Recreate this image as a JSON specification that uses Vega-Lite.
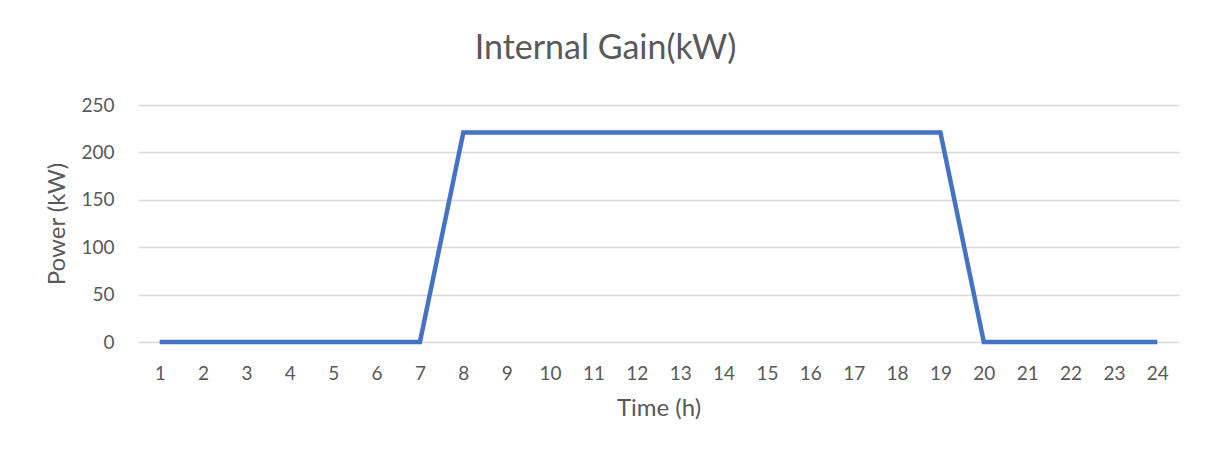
{
  "$schema": "https://vega.github.io/schema/vega-lite/v6.json",
  "autosize": "none",
  "width": 1041,
  "height": 237,
  "padding": {"left": 138, "top": 105, "right": 26, "bottom": 115},
  "background": "white",
  "title": {
    "text": "Internal Gain(kW)",
    "font": "Lato",
    "fontSize": 34,
    "fontWeight": "normal",
    "color": "#595959",
    "anchor": "middle",
    "dx": -53,
    "offset": 30
  },
  "data": {
    "values": [
      {"hour": 1, "power": 0}, {"hour": 2, "power": 0}, {"hour": 3, "power": 0},
      {"hour": 4, "power": 0}, {"hour": 5, "power": 0}, {"hour": 6, "power": 0},
      {"hour": 7, "power": 0}, {"hour": 8, "power": 221}, {"hour": 9, "power": 221},
      {"hour": 10, "power": 221}, {"hour": 11, "power": 221}, {"hour": 12, "power": 221},
      {"hour": 13, "power": 221}, {"hour": 14, "power": 221}, {"hour": 15, "power": 221},
      {"hour": 16, "power": 221}, {"hour": 17, "power": 221}, {"hour": 18, "power": 221},
      {"hour": 19, "power": 221}, {"hour": 20, "power": 0}, {"hour": 21, "power": 0},
      {"hour": 22, "power": 0}, {"hour": 23, "power": 0}, {"hour": 24, "power": 0}
    ]
  },
  "mark": {"type": "line", "color": "#4472C4", "strokeWidth": 4.5, "strokeJoin": "miter", "strokeCap": "butt"},
  "encoding": {
    "x": {
      "field": "hour",
      "type": "ordinal",
      "scale": {"type": "point", "padding": 0.5},
      "axis": {
        "title": "Time (h)",
        "labelAngle": 0,
        "ticks": false,
        "domain": false,
        "grid": false,
        "labelPadding": 22,
        "titlePadding": 13
      }
    },
    "y": {
      "field": "power",
      "type": "quantitative",
      "scale": {"domain": [0, 250], "nice": false},
      "axis": {
        "title": "Power (kW)",
        "values": [0, 50, 100, 150, 200, 250],
        "ticks": false,
        "domain": false,
        "labelPadding": 24,
        "titlePadding": 11
      }
    }
  },
  "config": {
    "view": {"stroke": null},
    "axis": {
      "labelFont": "Lato",
      "labelFontSize": 19,
      "labelColor": "#595959",
      "titleFont": "Lato",
      "titleFontSize": 24,
      "titleFontWeight": "normal",
      "titleColor": "#595959",
      "gridColor": "#D9D9D9",
      "gridWidth": 1.3
    }
  }
}
